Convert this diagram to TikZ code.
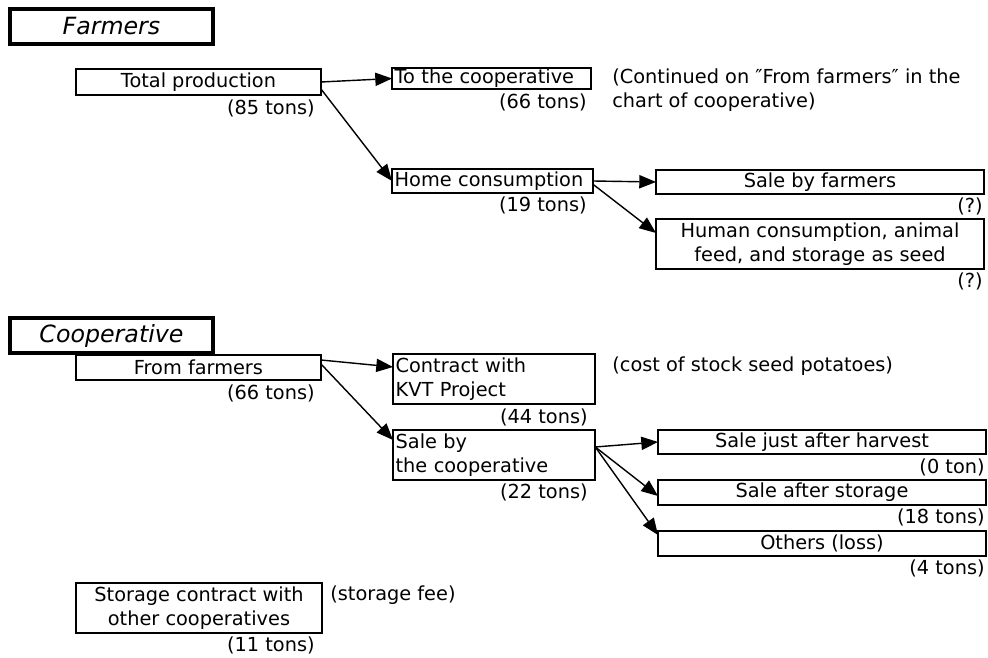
\documentclass[tikz,border=0pt]{standalone}
\usepackage{fontspec}
\setmainfont{DejaVu Sans}
\usetikzlibrary{arrows.meta,calc}
\begin{document}
\begin{tikzpicture}[x=0.02cm,y=-0.02cm,
  every node/.style={font=\fontsize{11}{14}\selectfont},
  box/.style={draw, line width=1pt, inner sep=0pt, outer sep=0pt, anchor=north west},
  boxl/.style={box, align=left, inner xsep=1.5pt},
  boxc/.style={box, align=center},
  title/.style={draw, line width=1.9pt, inner sep=0pt, outer sep=0pt, anchor=north west,
    font=\fontsize{13.5}{16}\selectfont\itshape},
  qty/.style={inner sep=0pt, anchor=north east},
  note/.style={inner sep=0pt, anchor=north west, align=left},
  flow/.style={line width=0.8pt, -{Triangle[length=9.5pt,width=7.5pt]}}]
\useasboundingbox (0,0) rectangle (988,658);

% ---------- Farmers ----------
\node[title, minimum width=203*0.02cm, minimum height=35*0.02cm] (farm) at (10,9) {Farmers};

\node[boxc, minimum width=245*0.02cm, minimum height=26*0.02cm] (tp) at (76,69) {Total production};
\node[qty] (tpq) at (315,99) {(85 tons)};

\node[boxl, text width=194*0.02cm, minimum height=21*0.02cm] (tc) at (392,68) {To the cooperative};
\node[qty] (tcq) at (587,93) {(66 tons)};
\node[note] (cont) at (612,68) {(Continued on ″From farmers″ in the\\chart of cooperative)};

\node[boxl, text width=196*0.02cm, minimum height=24*0.02cm] (home) at (392,169) {Home consumption};
\node[qty] (homeq) at (587,196) {(19 tons)};

\node[boxc, minimum width=328*0.02cm, minimum height=24*0.02cm] (sbf) at (656,170) {Sale by farmers};
\node[qty] (sbfq) at (983,197) {(?)};

\node[boxc, minimum width=328*0.02cm, minimum height=50*0.02cm] (hum) at (656,219)
  {Human consumption, animal\\feed, and storage as seed};
\node[qty] (humq) at (983,272) {(?)};

\draw[flow] (tp.east) -- (tc.west);
\draw[flow] ([yshift=-4pt]tp.east) -- (home.west);
\draw[flow] (home.east) -- (sbf.west);
\draw[flow] ([yshift=-2pt]home.east) -- ($(hum.north west)+(0,14)$);

% ---------- Cooperative ----------
\node[title, minimum width=203*0.02cm, minimum height=35*0.02cm] (coop) at (10,318) {Cooperative};

\node[boxc, minimum width=245*0.02cm, minimum height=25*0.02cm] (ff) at (76,355) {From farmers};
\node[qty] (ffq) at (315,384) {(66 tons)};

\node[boxl, text width=197*0.02cm, minimum height=50*0.02cm] (kvt) at (393,354) {Contract with\\KVT Project};
\node[qty] (kvtq) at (588,408) {(44 tons)};
\node[note] (cost) at (612,356) {(cost of stock seed potatoes)};

\node[boxl, text width=197*0.02cm, minimum height=50*0.02cm] (sbc) at (393,430) {Sale by\\the cooperative};
\node[qty] (sbcq) at (588,483) {(22 tons)};

\node[boxc, minimum width=328*0.02cm, minimum height=24*0.02cm] (sjh) at (658,430) {Sale just after harvest};
\node[qty] (sjhq) at (985,458) {(0 ton)};
\node[boxc, minimum width=328*0.02cm, minimum height=25*0.02cm] (sas) at (658,480) {Sale after storage};
\node[qty] (sasq) at (985,508) {(18 tons)};
\node[boxc, minimum width=328*0.02cm, minimum height=25*0.02cm] (oth) at (658,531) {Others (loss)};
\node[qty] (othq) at (985,559) {(4 tons)};

\node[boxc, minimum width=246*0.02cm, minimum height=50*0.02cm] (stc) at (76,583)
  {Storage contract with\\other cooperatives};
\node[qty] (stcq) at (315,636) {(11 tons)};
\node[note] (fee) at (330,585) {(storage fee)};

\draw[flow] ($(ff.north east)+(0,5)$) -- ($(kvt.north west)+(0,13)$);
\draw[flow] ($(ff.north east)+(0,9)$) -- ($(sbc.north west)+(0,10)$);
\coordinate (sbcout) at ($(sbc.north east)+(0,17)$);
\draw[flow] (sbcout) -- (sjh.west);
\draw[flow] (sbcout) -- ($(sas.north west)+(0,16)$);
\draw[flow] (sbcout) -- ($(oth.north west)+(0,4)$);
\end{tikzpicture}
\end{document}
